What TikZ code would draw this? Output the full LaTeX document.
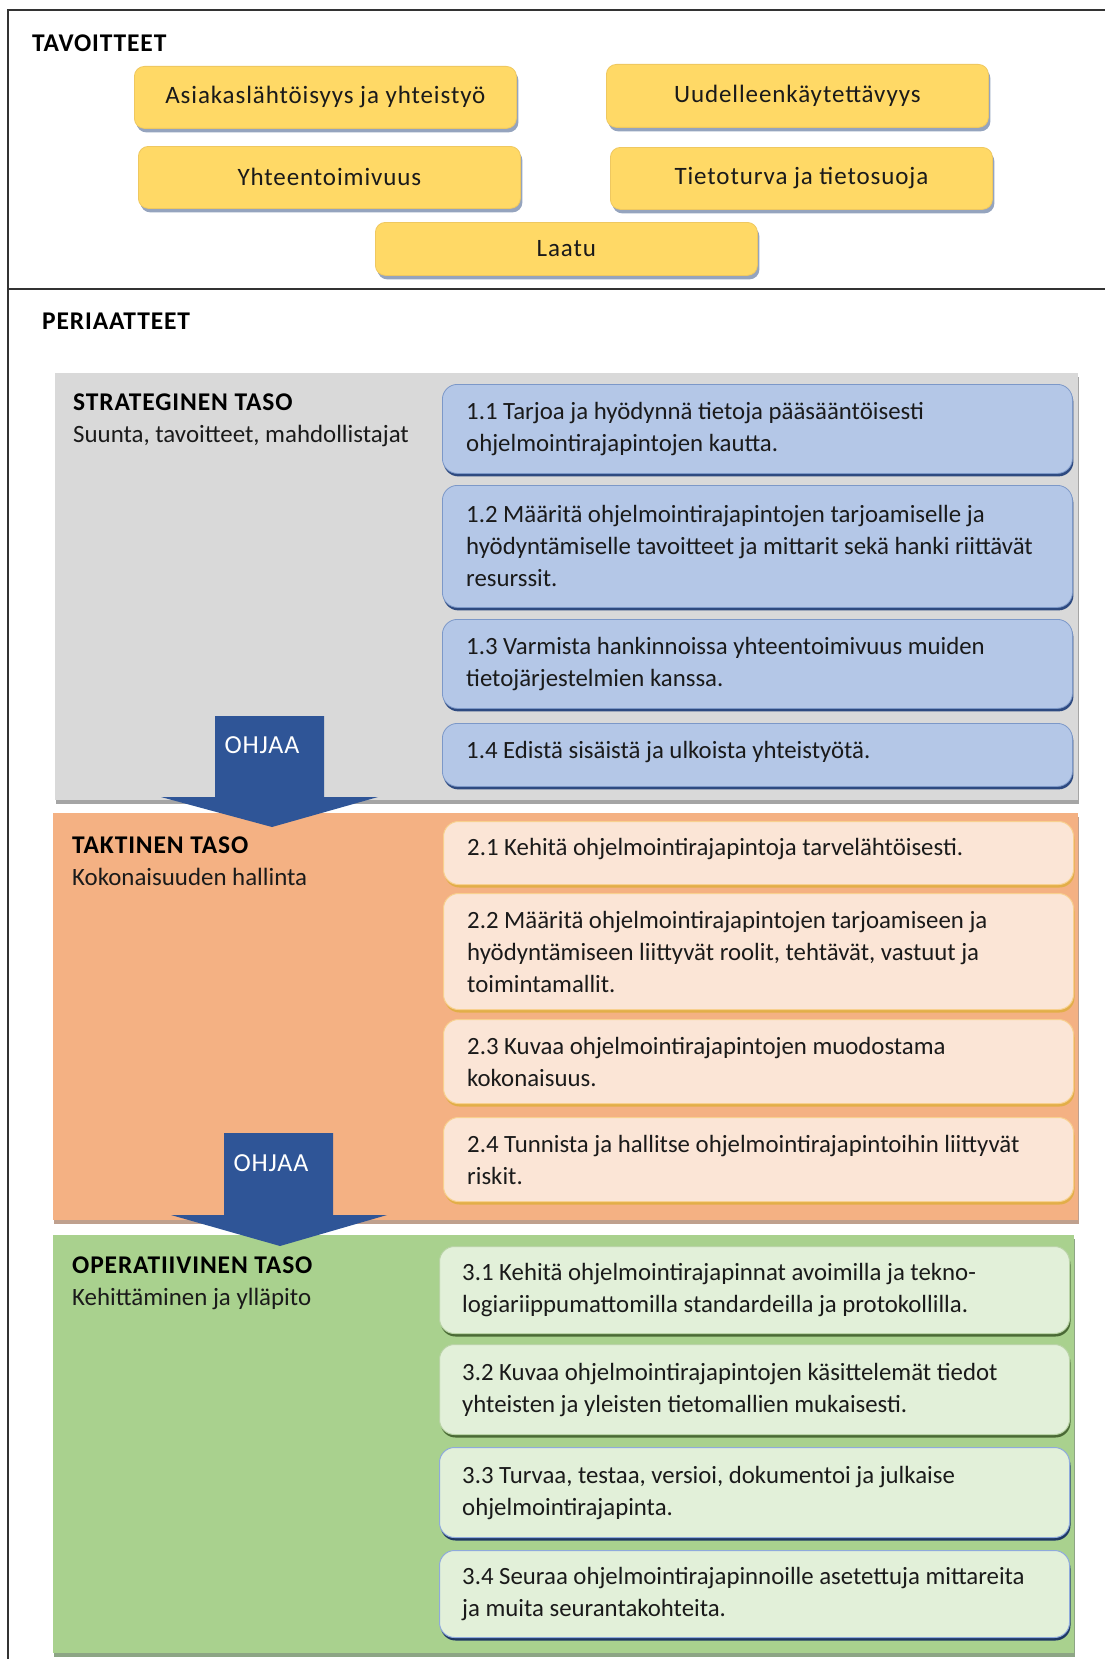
\documentclass[tikz,border=0pt]{standalone}
\usepackage{fontspec}
\setmainfont{Carlito}
\newfontfamily\spaced[LetterSpace=3.4]{Carlito}
\newfontfamily\goalfont[LetterSpace=3.6]{Carlito}
\usetikzlibrary{shadows}
\definecolor{goalfill}{HTML}{FFD966}
\definecolor{goalline}{HTML}{EFC860}
\definecolor{goalshadow}{HTML}{8A9BB8}
\definecolor{grayfill}{HTML}{D9D9D9}
\definecolor{grayshadow}{HTML}{A5A5A5}
\definecolor{bluefill}{HTML}{B4C7E7}
\definecolor{blueline}{HTML}{7C98C8}
\definecolor{blueshadow}{HTML}{2E4A80}
\definecolor{orangepanel}{HTML}{F4B183}
\definecolor{orangeshadow}{HTML}{BFA08E}
\definecolor{orangefill}{HTML}{FBE5D6}
\definecolor{orangeline}{HTML}{F8D08F}
\definecolor{orangeboxshadow}{HTML}{E2AE48}
\definecolor{greenpanel}{HTML}{A9D18E}
\definecolor{greenshadow}{HTML}{8DA585}
\definecolor{greenfill}{HTML}{E2F0D9}
\definecolor{greenline}{HTML}{B9D3A6}
\definecolor{greenboxshadow}{HTML}{4A6A35}
\definecolor{navyline}{HTML}{8FAADC}
\definecolor{navyshadow}{HTML}{1F3864}
\definecolor{arrowblue}{HTML}{2F5597}
\definecolor{txt}{HTML}{1A1A1A}
\tikzset{
  frame/.style={draw=black!80, line width=1.6pt},
  goal/.style={draw=goalline, fill=goalfill, line width=0.8pt, rounded corners=10pt,
    drop shadow={shadow xshift=2pt, shadow yshift=-4pt, fill=goalshadow, opacity=0.9},
    anchor=north west, inner sep=0pt, text=txt, font=\goalfont\fontsize{25}{29}\selectfont},
  panel/.style={anchor=north west, inner sep=0pt, draw=none},
  bluebox/.style={draw=blueline, fill=bluefill, line width=0.8pt, rounded corners=15pt,
    drop shadow={shadow xshift=1pt, shadow yshift=-3pt, fill=blueshadow, opacity=1},
    anchor=north west, inner sep=0pt, minimum width=630pt},
  orangebox/.style={draw=orangeline, fill=orangefill, line width=1pt, rounded corners=15pt,
    drop shadow={shadow xshift=1pt, shadow yshift=-3pt, fill=orangeboxshadow, opacity=1},
    anchor=north west, inner sep=0pt, minimum width=630pt},
  greenbox/.style={draw=greenline, fill=greenfill, line width=1pt, rounded corners=15pt,
    drop shadow={shadow xshift=1pt, shadow yshift=-3pt, fill=greenboxshadow, opacity=1},
    anchor=north west, inner sep=0pt, minimum width=630pt},
  navybox/.style={draw=navyline, fill=greenfill, line width=1pt, rounded corners=15pt,
    drop shadow={shadow xshift=1pt, shadow yshift=-3pt, fill=navyshadow, opacity=1},
    anchor=north west, inner sep=0pt, minimum width=630pt},
  itemtext/.style={anchor=west, align=left, inner sep=0pt, text=txt,
    font=\fontsize{24.8}{32}\selectfont},
  head/.style={anchor=west, inner sep=0pt, text=black, font=\spaced\bfseries\fontsize{25.5}{30}\selectfont},
  levelhead/.style={anchor=base west, inner sep=0pt, text=black, font=\spaced\bfseries\fontsize{25.5}{30}\selectfont},
  levelsub/.style={anchor=base west, inner sep=0pt, text=txt, font=\fontsize{24.9}{30}\selectfont},
  ohjaa/.style={inner sep=0pt, text=white, font=\spaced\fontsize{26}{30}\selectfont},
}
\begin{document}
\begin{tikzpicture}[x=1pt, y=-1pt]
\useasboundingbox (0,0) rectangle (1105,1659);
\fill[white] (0,0) rectangle (1105,1659);
\draw[frame] (8,10) rectangle (1112,1668);
\draw[frame] (8,289) -- (1112,289);

% TAVOITTEET
\node[head] (tav) at (32,43) {TAVOITTEET};
\node[goal, minimum width=382pt, minimum height=62pt] (g1) at (134,66) {Asiakaslähtöisyys ja yhteistyö};
\node[goal, minimum width=382pt, minimum height=63pt] (g2) at (606,64) {Uudelleenkäytettävyys};
\node[goal, minimum width=382pt, minimum height=62pt] (g3) at (138,146) {Yhteentoimivuus};
\node[goal, minimum width=382pt, minimum height=62pt] (g4) at (610,147) {Tietoturva ja tietosuoja};
\node[goal, minimum width=382pt, minimum height=53pt] (g5) at (375,222) {Laatu};

% PERIAATTEET
\node[head] (per) at (42,321) {PERIAATTEET};

% panels
\node[panel, fill=grayfill, minimum width=1023pt, minimum height=427pt,
  drop shadow={shadow xshift=1pt, shadow yshift=-4pt, fill=grayshadow, opacity=1}] (p1) at (55,373) {};
\node[panel, fill=orangepanel, minimum width=1025pt, minimum height=407pt,
  drop shadow={shadow xshift=1pt, shadow yshift=-4pt, fill=orangeshadow, opacity=1}] (p2) at (53,813) {};
\node[panel, fill=greenpanel, minimum width=1021pt, minimum height=418pt,
  drop shadow={shadow xshift=1pt, shadow yshift=-4pt, fill=greenshadow, opacity=1}] (p3) at (53,1235) {};

% level headings
\node[levelhead] (h1) at (73,410) {STRATEGINEN TASO};
\node[levelsub] (h1s) at (73,442) {Suunta, tavoitteet, mahdollistajat};
\node[levelhead] (h2) at (72,853) {TAKTINEN TASO};
\node[levelsub] (h2s) at (72,885) {Kokonaisuuden hallinta};
\node[levelhead] (h3) at (72,1273) {OPERATIIVINEN TASO};
\node[levelsub] (h3s) at (72,1305) {Kehittäminen ja ylläpito};

% strategic items
\node[bluebox, minimum height=89pt] (b11) at (442,384) {};
\node[itemtext] (t11) at ([xshift=24pt]b11.west) {1.1 Tarjoa ja hyödynnä tietoja pääsääntöisesti\\ohjelmointirajapintojen kautta.};
\node[bluebox, minimum height=122pt] (b12) at (442,485) {};
\node[itemtext] (t12) at ([xshift=24pt]b12.west) {1.2 Määritä ohjelmointirajapintojen tarjoamiselle ja\\hyödyntämiselle tavoitteet ja mittarit sekä hanki riittävät\\resurssit.};
\node[bluebox, minimum height=89pt] (b13) at (442,619) {};
\node[itemtext] (t13) at ([xshift=24pt]b13.west) {1.3 Varmista hankinnoissa yhteentoimivuus muiden\\tietojärjestelmien kanssa.};
\node[bluebox, minimum height=63pt] (b14) at (442,723) {};
\node[itemtext] (t14) at ([xshift=24pt,yshift=3pt]b14.west) {1.4 Edistä sisäistä ja ulkoista yhteistyötä.};

% tactical items
\node[orangebox, minimum height=63pt] (o21) at (443,821) {};
\node[itemtext] (t21) at ([xshift=24pt,yshift=4pt]o21.west) {2.1 Kehitä ohjelmointirajapintoja tarvelähtöisesti.};
\node[orangebox, minimum height=116pt] (o22) at (443,893) {};
\node[itemtext] (t22) at ([xshift=24pt]o22.west) {2.2 Määritä ohjelmointirajapintojen tarjoamiseen ja\\hyödyntämiseen liittyvät roolit, tehtävät, vastuut ja\\toimintamallit.};
\node[orangebox, minimum height=84pt] (o23) at (443,1019) {};
\node[itemtext] (t23) at ([xshift=24pt]o23.west) {2.3 Kuvaa ohjelmointirajapintojen muodostama\\kokonaisuus.};
\node[orangebox, minimum height=84pt] (o24) at (443,1117) {};
\node[itemtext] (t24) at ([xshift=24pt]o24.west) {2.4 Tunnista ja hallitse ohjelmointirajapintoihin liittyvät\\riskit.};

% operational items
\node[greenbox, minimum height=87pt] (g31) at (439,1246) {};
\node[itemtext] (t31) at ([xshift=23pt]g31.west) {3.1 Kehitä ohjelmointirajapinnat avoimilla ja tekno-\\logiariippumattomilla standardeilla ja protokollilla.};
\node[greenbox, minimum height=90pt] (g32) at (439,1344) {};
\node[itemtext] (t32) at ([xshift=23pt]g32.west) {3.2 Kuvaa ohjelmointirajapintojen käsittelemät tiedot\\yhteisten ja yleisten tietomallien mukaisesti.};
\node[navybox, minimum height=90pt] (g33) at (439,1447) {};
\node[itemtext] (t33) at ([xshift=23pt]g33.west) {3.3 Turvaa, testaa, versioi, dokumentoi ja julkaise\\ohjelmointirajapinta.};
\node[navybox, minimum height=87pt] (g34) at (439,1550) {};
\node[itemtext] (t34) at ([xshift=23pt]g34.west) {3.4 Seuraa ohjelmointirajapinnoille asetettuja mittareita\\ja muita seurantakohteita.};

% OHJAA arrows
\fill[arrowblue] (215,716) -- (324,716) -- (324,797) -- (378,797) -- (272,827) -- (161,797) -- (215,797) -- cycle;
\node[ohjaa] (a1) at (262,745) {OHJAA};
\fill[arrowblue] (224,1133) -- (333,1133) -- (333,1215) -- (387,1215) -- (280,1246) -- (171,1215) -- (224,1215) -- cycle;
\node[ohjaa] (a2) at (271,1163) {OHJAA};
\end{tikzpicture}
\end{document}
